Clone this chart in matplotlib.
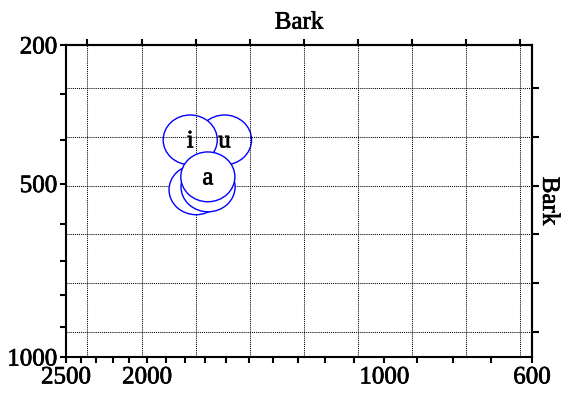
import numpy as np
import matplotlib
matplotlib.use('Agg')
import matplotlib.pyplot as plt
import matplotlib.patheffects as pe
from matplotlib.patches import Ellipse

plt.rcParams['font.family'] = ['Liberation Serif', 'DejaVu Serif']


def bark(hz):
    # Hz -> Bark, same formula Praat uses
    return 7.0 * np.arcsinh(np.asarray(hz, dtype=float) / 650.0)


# vowel tokens, in drawing order
vowels = ['u', 'i', 'a', 'a', 'a']
f1_hz = [399, 399, 515, 508, 484]
f2_hz = [1609, 1773, 1744, 1686, 1687]

# axis ticks (Hz)
f2_labeled = [2500, 2000, 1000, 600]
f2_minor = list(range(2400, 600, -100))
f1_labeled = [200, 500, 1000]
f1_minor = list(range(300, 1000, 100))
# bark grid
bark_x_grid = list(range(6, 15))
bark_y_grid = list(range(3, 9))

FS = 18
TICK_LEN = 4.3
LW = 1.5
heavy = [pe.withStroke(linewidth=0.5, foreground='black')]

fig = plt.figure(figsize=(5.63, 3.94), dpi=100)
ax = fig.add_axes([66 / 563, 1 - 357 / 394, 466 / 563, 312 / 394])
ax.set_xlim(bark(2500), bark(600))
ax.set_ylim(bark(1000), bark(200))

ax.set_xticks(bark(f2_labeled))
ax.set_xticklabels([str(v) for v in f2_labeled])
ax.set_xticks(bark(f2_minor), minor=True)
ax.set_yticks(bark(f1_labeled))
ax.set_yticklabels([str(v) for v in f1_labeled])
ax.set_yticks(bark(f1_minor), minor=True)
ax.tick_params(which='both', direction='out', length=TICK_LEN, width=LW,
               labelsize=FS, top=False, right=False)
ax.tick_params(axis='x', which='major', pad=2.5)
ax.tick_params(axis='y', which='major', pad=2)
for lab in ax.get_xticklabels() + ax.get_yticklabels():
    lab.set_path_effects(heavy)
for s in ax.spines.values():
    s.set_linewidth(LW)

# dotted bark grid
for b in bark_x_grid:
    ax.axvline(b, color='k', lw=0.75, ls=(0, (1, 1)), zorder=2)
for b in bark_y_grid:
    ax.axhline(b, color='k', lw=0.75, ls=(0, (1, 1)), zorder=2)

# ellipses: i and u under the grid, a's over it
last = {v: k for k, v in enumerate(vowels)}
for k, (v, f1, f2) in enumerate(zip(vowels, f1_hz, f2_hz)):
    z = 1 + k * 0.1 if v != 'a' else 3 + k * 0.1
    x, y = bark(f2), bark(f1)
    ax.add_patch(Ellipse((x, y), 1.0, 1.02, facecolor='white',
                         edgecolor='blue', lw=1.0, zorder=z))
    if last[v] == k:
        ax.text(x, y + 0.03, v, fontsize=FS, ha='center', va='center',
                zorder=z + 0.05, path_effects=heavy)

secx = ax.secondary_xaxis('top')
secx.set_xticks(bark_x_grid)
secx.set_xticklabels([])
secx.tick_params(direction='out', length=TICK_LEN, width=LW)
secx.set_xlabel('Bark', fontsize=FS, labelpad=4, path_effects=heavy)

secy = ax.secondary_yaxis('right')
secy.set_yticks(bark_y_grid)
secy.set_yticklabels([])
secy.tick_params(direction='out', length=TICK_LEN * 1.15, width=LW)
secy.set_ylabel('Bark', fontsize=FS, rotation=270, va='bottom', labelpad=-4,
                path_effects=heavy)

for sa in (secx, secy):
    for s in sa.spines.values():
        s.set_linewidth(LW)

fig.savefig('out.png', dpi=100)
